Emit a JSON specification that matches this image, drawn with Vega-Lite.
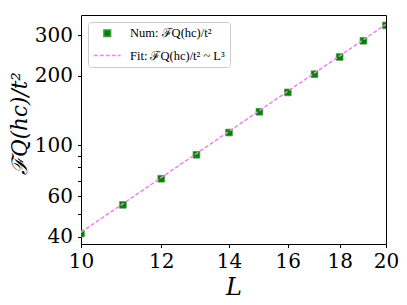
{
  "$schema": "https://vega.github.io/schema/vega-lite/v6.json",
  "width": 305,
  "height": 229,
  "autosize": {"type": "none"},
  "padding": {"left": 81, "top": 15, "right": 21, "bottom": 61},
  "background": "white",
  "config": {
    "font": "DejaVu Serif",
    "view": {"stroke": "black", "strokeWidth": 1},
    "axis": {
      "grid": false,
      "domain": false,
      "tickColor": "black",
      "tickWidth": 1,
      "tickSize": 3.5,
      "labelColor": "black",
      "titleColor": "black",
      "labelFont": "DejaVu Serif",
      "titleFont": "DejaVu Serif",
      "labelFontSize": 20,
      "labelFlush": false,
      "titleFontWeight": "normal",
      "titleFontStyle": "italic"
    }
  },
  "datasets": {
    "num": [
      {"L": 10, "F": 41.3, "series": "Num"},
      {"L": 11, "F": 55.0, "series": "Num"},
      {"L": 12, "F": 71.4, "series": "Num"},
      {"L": 13, "F": 90.7, "series": "Num"},
      {"L": 14, "F": 113.3, "series": "Num"},
      {"L": 15, "F": 139.4, "series": "Num"},
      {"L": 16, "F": 169.2, "series": "Num"},
      {"L": 17, "F": 202.9, "series": "Num"},
      {"L": 18, "F": 240.9, "series": "Num"},
      {"L": 19, "F": 283.3, "series": "Num"},
      {"L": 20, "F": 330.4, "series": "Num"}
    ],
    "fit": [
      {"L": 10, "F": 41.8, "series": "Fit"},
      {"L": 20, "F": 334, "series": "Fit"}
    ]
  },
  "layer": [
    {
      "data": {"name": "num"},
      "mark": {"type": "point", "filled": true, "strokeWidth": 0.8, "opacity": 1, "clip": true},
      "encoding": {
        "x": {
          "field": "L", "type": "quantitative",
          "scale": {"type": "log", "domain": [10, 20], "nice": false},
          "axis": {"values": [10, 12, 14, 16, 18, 20], "format": "d", "labelPadding": 4, "labelOverlap": false, "titleFontSize": 24, "titlePadding": 4},
          "title": "L"
        },
        "y": {
          "field": "F", "type": "quantitative",
          "scale": {"type": "log", "domain": [37.2, 366.6], "nice": false},
          "axis": {
            "values": [40, 50, 60, 70, 80, 90, 100, 200, 300],
            "labelExpr": "indexof([40, 60, 100, 200, 300], datum.value) >= 0 ? format(datum.value, 'd') : ''",
            "labelOverlap": false,
            "labelPadding": 5,
            "titleFontSize": 21.5,
            "titleX": -61,
            "titleY": 108,
            "titleBaseline": "middle"
          },
          "title": "ℱQ(hc)/t²"
        },
        "fill": {
          "field": "series", "type": "nominal",
          "scale": {"domain": ["Num", "Fit"], "range": ["#008000", "#ee82ee"]},
          "legend": {
            "orient": "none", "legendX": 7, "legendY": 7, "title": null,
            "padding": 5, "fillColor": "white", "strokeColor": "#cccccc", "cornerRadius": 3,
            "symbolSize": 182, "rowPadding": 8, "symbolOffset": 6.75, "labelOffset": 15.25,
            "symbolStrokeWidth": 1.5, "symbolOpacity": 1,
            "labelFont": "Liberation Serif", "labelFontSize": 12.5, "labelColor": "black", "labelLimit": 300,
            "labelExpr": "datum.value === 'Num' ? 'Num: ℱQ(hc)/t²' : 'Fit: ℱQ(hc)/t² ~ L³'"
          }
        },
        "stroke": {
          "field": "series", "type": "nominal",
          "scale": {"domain": ["Num", "Fit"], "range": ["#3f9f3f", "#ee82ee"]}
        },
        "shape": {
          "field": "series", "type": "nominal",
          "scale": {"domain": ["Num", "Fit"], "range": ["square", "M-2,0H2"]}
        },
        "size": {
          "field": "series", "type": "nominal",
          "scale": {"domain": ["Num", "Fit"], "range": [45, 182]}
        },
        "strokeDash": {
          "field": "series", "type": "nominal",
          "scale": {"domain": ["Num", "Fit"], "range": [[1, 0], [4, 2]]}
        }
      }
    },
    {
      "data": {"name": "fit"},
      "mark": {"type": "line", "strokeDash": [4, 2], "strokeWidth": 1.5, "clip": true},
      "encoding": {
        "x": {"field": "L", "type": "quantitative"},
        "y": {"field": "F", "type": "quantitative"},
        "stroke": {"field": "series", "type": "nominal", "legend": null}
      }
    }
  ]
}
